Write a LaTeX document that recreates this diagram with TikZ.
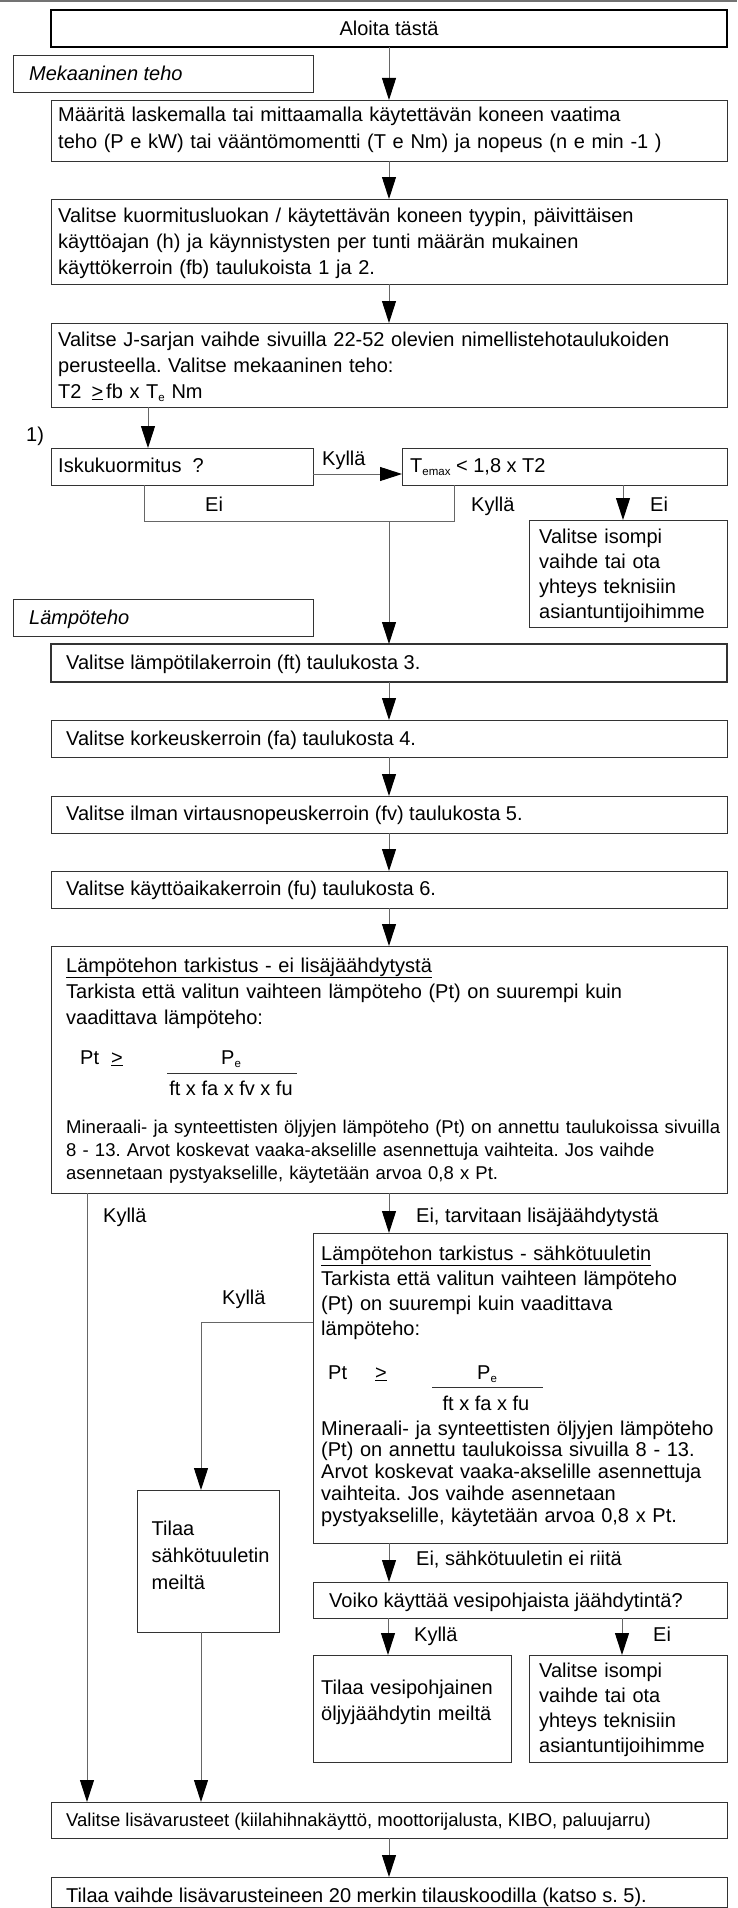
\documentclass[tikz,border=0pt]{standalone}
\usepackage{fontspec}
\setmainfont{Liberation Sans}
\usetikzlibrary{arrows.meta,calc}
\newcommand{\subs}[1]{\raisebox{-3pt}{\fontsize{11.5}{11.5}\selectfont #1}}
\newcommand{\geul}{\underline{>}}
\frenchspacing
\begin{document}
\begin{tikzpicture}[x=1pt,y=-1pt,
  box/.style={draw=black!80,line width=0.9pt,inner sep=0pt,outer sep=0pt,anchor=north west},
  conn/.style={draw=black!60,line width=1pt},
  arr/.style={conn,-{Triangle[length=22pt,width=14pt,color=black]}},
  tx/.style={anchor=base west,inner sep=0pt,align=left,text width=660pt,font=\fontsize{20}{26}\selectfont},
  lbl/.style={anchor=base west,inner sep=0pt,font=\fontsize{20}{24}\selectfont},
  frac/.style={draw=black!80,line width=1pt}
]
\useasboundingbox[fill=white] (0,0) rectangle (737,1908);
\draw[black!55,line width=1.2pt] (0,1) -- (737,1);

% boxes
\node[box,draw=black,line width=2.2pt,minimum width=676pt,minimum height=37pt] (aloita) at (51,10) {};
\node[box,minimum width=300pt,minimum height=37pt] (mek) at (13,55) {};
\node[box,minimum width=676pt,minimum height=61pt] (b1) at (51,100) {};
\node[box,minimum width=676pt,minimum height=85pt] (b2) at (51,199) {};
\node[box,minimum width=676pt,minimum height=84pt] (b3) at (51,323) {};
\node[box,minimum width=262pt,minimum height=37pt] (isku) at (51,448) {};
\node[box,minimum width=325pt,minimum height=37pt] (temax) at (402,448) {};
\node[box,minimum width=198pt,minimum height=107pt] (iso1) at (529,520) {};
\node[box,minimum width=300pt,minimum height=37pt] (lampo) at (13,599) {};
\node[box,line width=1.6pt,minimum width=676pt,minimum height=38pt] (c1) at (51,644) {};
\node[box,minimum width=676pt,minimum height=37pt] (c2) at (51,720) {};
\node[box,minimum width=676pt,minimum height=37pt] (c3) at (51,796) {};
\node[box,minimum width=676pt,minimum height=37pt] (c4) at (51,871) {};
\node[box,minimum width=676pt,minimum height=247pt] (big) at (51,946) {};
\node[box,minimum width=414pt,minimum height=310pt] (sahko) at (313,1233) {};
\node[box,minimum width=142pt,minimum height=142pt] (tilsah) at (137,1490) {};
\node[box,minimum width=414pt,minimum height=36pt] (voiko) at (313,1582) {};
\node[box,minimum width=198pt,minimum height=107pt] (vesi) at (313,1655) {};
\node[box,minimum width=198pt,minimum height=107pt] (iso2) at (529,1655) {};
\node[box,minimum width=676pt,minimum height=36pt] (lisa) at (51,1802) {};
\node[box,minimum width=676pt,minimum height=30pt] (tilaa) at (51,1877) {};

% helper coordinates
\coordinate (xm) at (389,0);
\coordinate (xa) at (148,0);
\coordinate (ya) at (0,474);
\coordinate (xb) at (144,0);
\coordinate (xc) at (454,0);
\coordinate (yb) at (0,521);
\coordinate (xd) at (623,0);
\coordinate (xe) at (87,0);
\coordinate (xf) at (201,0);
\coordinate (yc) at (0,1322);
\coordinate (xg) at (388,0);
\coordinate (xh) at (622,0);

% connectors
\draw[arr] (aloita.south) -- (b1.north);
\draw[arr] (b1.south) -- (b2.north);
\draw[arr] (b2.south) -- (b3.north);
\draw[arr] (b3.south -| xa) -- (isku.north -| xa);
\draw[arr] (isku.east |- ya) -- (temax.west |- ya);
\draw[conn] (isku.south -| xb) -- (xb |- yb) -- (xc |- yb) -- (temax.south -| xc);
\draw[arr] (xm |- yb) -- (c1.north);
\draw[arr] (temax.south -| xd) -- (iso1.north -| xd);
\draw[arr] (c1.south) -- (c2.north);
\draw[arr] (c2.south) -- (c3.north);
\draw[arr] (c3.south) -- (c4.north);
\draw[arr] (c4.south) -- (big.north);
\draw[arr] (big.south -| xe) -- (lisa.north -| xe);
\draw[arr] (big.south) -- (sahko.north -| xm);
\draw[arr] (sahko.west |- yc) -- (xf |- yc) -- (tilsah.north -| xf);
\draw[arr] (sahko.south -| xm) -- (voiko.north -| xm);
\draw[arr] (voiko.south -| xg) -- (vesi.north -| xg);
\draw[arr] (voiko.south -| xh) -- (iso2.north -| xh);
\draw[arr] (tilsah.south -| xf) -- (lisa.north -| xf);
\draw[arr] (lisa.south) -- (tilaa.north);

% texts
\node[lbl,anchor=base] (t0) at (389,35.5) {Aloita tästä};
\node[lbl,font=\fontsize{20}{24}\selectfont\itshape] (tmek) at (29,80.5) {Mekaaninen teho};
\node[tx] (t1) at (58,122) {Määritä laskemalla tai mittaamalla käytettävän koneen vaatima\\teho (P e kW) tai vääntömomentti (T e Nm) ja nopeus (n e min -1 )};
\node[tx] (t2) at (58,222) {Valitse kuormitusluokan / käytettävän koneen tyypin, päivittäisen\\käyttöajan (h) ja käynnistysten per tunti määrän mukainen\\käyttökerroin (fb) taulukoista 1 ja 2.};
\node[tx] (t3) at (58,346) {Valitse J-sarjan vaihde sivuilla 22-52 olevien nimellistehotaulukoiden\\perusteella. Valitse mekaaninen teho:\\T2\hspace{10pt}\geul\hspace{3pt}fb x T\subs{e} Nm};
\node[lbl] (l0) at (26,441) {1)};
\node[lbl] (t4) at (58,472) {Iskukuormitus\ \ ?};
\node[lbl] (l1) at (322,465) {Kyllä};
\node[lbl] (t5) at (410,472) {T\subs{emax} < 1,8 x T2};
\node[lbl] (l2) at (205,511) {Ei};
\node[lbl] (l3) at (471,511) {Kyllä};
\node[lbl] (l4) at (650,511) {Ei};
\node[tx,font=\fontsize{20}{25.3}\selectfont] (t6) at (539,543) {Valitse isompi\\vaihde tai ota\\yhteys teknisiin\\asiantuntijoihimme};
\node[lbl,font=\fontsize{20}{24}\selectfont\itshape] (tlampo) at (29,624) {Lämpöteho};
\node[lbl] (t7) at (66,669) {Valitse lämpötilakerroin (ft) taulukosta 3.};
\node[lbl] (t8) at (66,745) {Valitse korkeuskerroin (fa) taulukosta 4.};
\node[lbl] (t9) at (66,820) {Valitse ilman virtausnopeuskerroin (fv) taulukosta 5.};
\node[lbl] (t10) at (66,895) {Valitse käyttöaikakerroin (fu) taulukosta 6.};
\node[tx] (t11) at (66,972) {\underline{Lämpötehon tarkistus - ei lisäjäähdytystä}\\Tarkista että valitun vaihteen lämpöteho (Pt) on suurempi kuin\\vaadittava lämpöteho:};
\node[lbl] (f1) at (80,1064) {Pt\hspace{12pt}\geul};
\node[lbl] (f2) at (221,1064) {P\subs{e}};
\draw[frac] (167,1073) -- (297,1073);
\node[lbl,anchor=base] (f3) at (231,1095) {ft x fa x fv x fu};
\node[tx,font=\fontsize{18.5}{23.2}\selectfont] (p1) at (66,1133) {Mineraali- ja synteettisten öljyjen lämpöteho (Pt) on annettu taulukoissa sivuilla\\8 - 13. Arvot koskevat vaaka-akselille asennettuja vaihteita. Jos vaihde\\asennetaan pystyakselille, käytetään arvoa 0,8 x Pt.};
\node[lbl] (l5) at (103,1222) {Kyllä};
\node[lbl] (l6) at (416,1222) {Ei, tarvitaan lisäjäähdytystä};
\node[tx,font=\fontsize{20}{25}\selectfont] (t12) at (321,1260) {\underline{Lämpötehon tarkistus - sähkötuuletin}\\Tarkista että valitun vaihteen lämpöteho\\(Pt) on suurempi kuin vaadittava\\lämpöteho:};
\node[lbl] (g1) at (328,1379) {Pt};
\node[lbl] (g2) at (375,1379) {\geul};
\node[lbl] (g3) at (477,1379) {P\subs{e}};
\draw[frac] (432,1387) -- (543,1387);
\node[lbl,anchor=base] (g4) at (486,1410) {ft x fa x fu};
\node[tx,font=\fontsize{20}{21.75}\selectfont] (p2) at (321,1435) {Mineraali- ja synteettisten öljyjen lämpöteho\\(Pt) on annettu taulukoissa sivuilla 8 - 13.\\Arvot koskevat vaaka-akselille asennettuja\\vaihteita. Jos vaihde asennetaan\\pystyakselille, käytetään arvoa 0,8 x Pt.};
\node[lbl] (l7) at (222,1304) {Kyllä};
\node[tx,font=\fontsize{20}{27}\selectfont] (t13) at (151.5,1535) {Tilaa\\sähkötuuletin\\meiltä};
\node[lbl] (l8) at (416,1565) {Ei, sähkötuuletin ei riitä};
\node[lbl] (t14) at (329,1607) {Voiko käyttää vesipohjaista jäähdytintä?};
\node[lbl] (l9) at (414,1641) {Kyllä};
\node[lbl] (l10) at (653,1641) {Ei};
\node[tx,font=\fontsize{20}{26.5}\selectfont] (t15) at (321,1694) {Tilaa vesipohjainen\\öljyjäähdytin meiltä};
\node[tx,font=\fontsize{20}{25.3}\selectfont] (t16) at (539,1677) {Valitse isompi\\vaihde tai ota\\yhteys teknisiin\\asiantuntijoihimme};
\node[lbl,font=\fontsize{18.5}{22}\selectfont] (t17) at (66,1826) {Valitse lisävarusteet (kiilahihnakäyttö, moottorijalusta, KIBO, paluujarru)};
\node[lbl] (t18) at (66,1902) {Tilaa vaihde lisävarusteineen 20 merkin tilauskoodilla (katso s. 5).};
\end{tikzpicture}
\end{document}
